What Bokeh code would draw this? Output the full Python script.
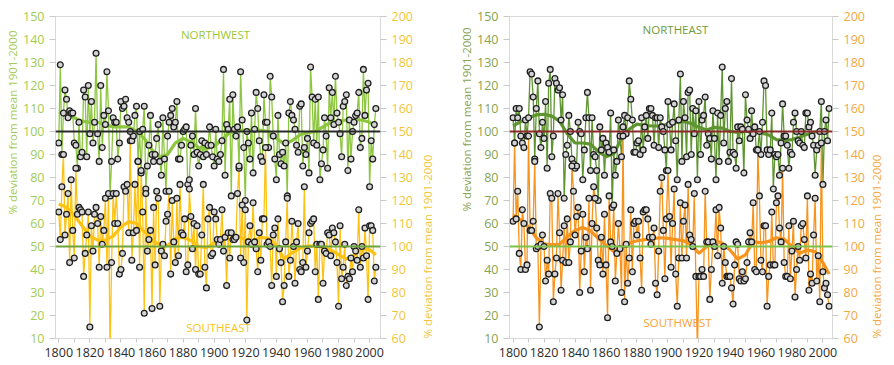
import math
from bokeh.plotting import figure
from bokeh.models import Range1d, LinearAxis, FixedTicker, Span, Label, Title
from bokeh.layouts import row
from bokeh.embed import file_html
from bokeh.resources import INLINE

# ---------------- data ----------------
years = list(range(1800, 2005))
smooth_years = list(range(1800, 2001, 5)) + [2004]
x_ticks = list(range(1800, 2001, 20))
x_minor = list(range(1800, 2011, 10))
left_ticks = list(range(10, 151, 10))
right_ticks = list(range(60, 201, 10))

northwest = [
    95, 129, 90, 108, 118, 114, 106, 109, 108, 108,
    95, 94, 84, 104, 89, 91, 118, 115, 89, 120,
    99, 113, 95, 104, 134, 99, 87, 120, 93, 107,
    103, 126, 109, 72, 87, 106, 104, 104, 88, 95,
    113, 110, 111, 114, 106, 104, 96, 96, 98, 107,
    111, 87, 100, 82, 101, 111, 75, 85, 94, 107,
    90, 87,
    90, 97, 103, 87, 81, 106, 88, 74, 98, 104,
    107, 110, 102, 104, 113, 88, 88, 94, 100, 101,
    102, 77, 79, 94, 98, 90, 110, 91, 85, 90,
    96, 89, 95, 90, 94, 102, 94, 89, 85, 101,
    88, 87, 90, 96, 127, 81, 103, 101, 114, 72,
    116, 101, 98, 102, 84, 126, 105, 93, 70, 100, 95, 88,
    108, 82, 101, 117, 110, 96, 89, 87, 116, 104,
    104, 93, 124, 115, 98, 88, 79, 107, 90, 86,
    91, 85, 95, 72, 108, 113, 107, 105, 101, 94,
    91, 111, 112, 85, 93, 90, 97, 82, 128, 115,
    95, 114, 94, 115, 79, 86, 92, 106, 98, 84,
    119, 106, 117, 103, 124, 108, 104, 99, 89, 111,
    113, 116, 83, 105, 88, 100, 104, 107, 108, 117,
    93, 97, 127, 107, 118, 121, 76, 96, 88, 103, 110,
]

southeast = [
    115, 103, 126, 140, 105, 114, 123, 93, 129, 107,
    95, 134, 114, 117, 116, 115, 87, 97, 105, 115,
    65, 109, 98, 114, 117, 110, 91, 113, 101, 107,
    121, 91, 123, 52, 93, 123, 110, 123, 110, 88,
    90, 97, 126, 124, 127, 106, 150, 94, 106, 127,
    107, 137, 91, 133, 115, 71, 123, 98, 103, 107,
    73, 117, 92, 124, 121, 74, 98, 101, 96, 111,
    114, 124, 88, 120, 102, 93, 121, 96, 127, 106,
    105, 112, 89, 92, 125, 113, 99, 110, 90, 109,
    88, 88, 105, 127, 91, 82, 112, 117, 96, 97,
    115, 112, 103, 101, 103, 116, 98, 104, 83, 106,
    95, 106, 103, 103, 104, 123, 135, 95, 118, 93,
    116, 68, 102, 109, 101, 119, 102, 99, 89, 106,
    94, 112, 112, 143, 101, 102, 100, 83, 105, 108,
    87, 112, 99, 93, 76, 83, 102, 121, 87, 94,
    111, 100, 84, 102, 110, 90, 89, 93, 126, 91,
    98, 106, 110, 111, 112, 89, 101, 77, 101, 101,
    84, 98, 97, 106, 105, 96, 108, 106, 102, 93,
    74, 109, 86, 91, 101, 83, 87, 86, 95, 89,
    100, 98, 94, 116, 91, 100, 95, 108, 96, 77,
    109, 109, 107, 85, 91,
]

northeast = [
    106, 95, 110, 106, 110, 98, 95,
    93, 105, 98, 106, 126, 125, 115, 88, 110, 122,
    99, 93, 104, 97, 113, 84, 121, 127, 89, 98,
    123, 121, 118, 119, 105, 116, 71, 90, 94, 107,
    100, 88, 86, 84, 85, 104, 100, 99, 79, 92,
    106, 117, 106, 83, 106, 90, 89, 83, 70, 102,
    92, 97, 81, 95, 93, 91, 108, 67, 92, 81,
    87, 105, 98, 89, 102, 107, 99, 106, 122, 114,
    105, 91, 91, 95, 96, 90, 106, 92, 102, 107,
    97, 110, 110, 107, 94, 106, 106, 93, 106, 102,
    100, 92, 83, 113, 103, 92, 104, 112, 96, 79,
    105, 125, 87, 113, 106, 89, 117, 118, 90, 110,
    99, 109, 79, 113, 90, 105, 107, 115, 94, 99,
    97, 88, 109, 97, 79, 108, 87, 107, 128, 95,
    110, 113, 87, 91, 123, 91, 90, 84, 102, 96,
    102, 101, 82, 116, 105, 101, 97, 109, 99, 102,
    92, 92, 100, 90, 104, 122, 120, 92, 90, 92,
    108, 75, 90, 89, 90, 81, 95, 112, 98, 98, 94,
    84, 91, 90, 104, 108, 100, 96, 95, 100, 94,
    93, 108, 108, 102, 104, 98, 94, 81, 92, 94, 100,
    113, 77, 100, 105, 96, 110,
]

southwest = [
    111, 145, 112, 124, 97, 90, 116, 110, 90, 92,
    148, 107, 107, 111, 137, 99, 100, 65,
    101, 105, 100, 85, 94, 88, 123, 121, 76, 88,
    95, 123, 106, 81, 94, 109, 93, 112, 93, 102,
    135, 124, 105, 113, 117, 80, 98, 114, 89, 104,
    99, 121, 81, 110, 126, 121, 108, 94, 92, 104, 88, 114, 92,
    69,
    122, 102, 100, 118, 85, 97, 110, 99, 80, 148,
    76, 101, 84, 95, 116, 89, 110, 111, 105, 111,
    95, 81, 115, 116, 116, 112, 104, 101, 104, 108,
    84, 79, 98, 124, 130, 107, 86, 112, 133, 113,
    91, 110, 125, 88,
    74,
    95, 119, 95, 111, 118, 95, 127, 105, 103, 100,
    123, 87, 55, 87, 87, 90, 87, 124, 102, 102,
    77, 90, 102, 100, 116, 96, 117, 108, 84, 100,
    93, 87, 87, 87, 82,
    75,
    92, 102, 101, 86, 85, 89, 85, 86, 93, 102,
    106, 102, 119, 90, 89, 142, 122, 94, 89, 109, 109,
    74,
    87, 92, 115, 92, 92, 119, 122, 108, 102, 134,
    93, 87, 87, 109, 86, 98, 111, 78, 90, 100,
    94, 109, 110, 103, 95, 122, 81, 88, 84, 105,
    121, 85, 96, 76, 145, 89, 82, 84, 79, 74,
]

nw_smooth = [108.4, 107.5, 106, 104.5, 104, 104, 103, 102, 102, 102,
             100, 97, 92, 89, 90, 95, 97, 95.5, 93, 92.5,
             93.5, 96.5, 99.5, 100.5, 100.5, 100.5, 100.5, 100, 97, 94.6,
             96, 98.5, 99.5, 100, 102, 104, 104.5, 105, 105, 105,
             104, 102.6]
se_smooth = [118.5, 117, 113.5, 109, 104.5, 102.8, 102.8, 104.5, 108.5, 110.8,
             110, 106.5, 102.6, 100.8, 100.4, 103.5, 104, 102.6, 100, 99.5,
             101.5, 104.5, 106, 104.5, 103, 102.6, 104, 103.5, 100.5, 94.6,
             97.2, 99.2, 100.2, 100.3, 99.7, 98.5, 96.5, 94.5, 96.2, 99.2,
             98.6, 96.4]
ne_smooth = [102.4, 104.3, 106, 107.2, 107.5, 106.7, 104.5, 99, 95, 95,
             94.5, 91.3, 89, 90.2, 97, 101, 103.2, 102.6, 102.4, 102.4,
             103.2, 103.8, 104.4, 103.5, 101.8, 100.6, 101.8, 101.5, 100, 99.6,
             100, 100.2, 99.5, 98.5, 96.5, 96, 96.5, 97.6, 98.8, 99.8,
             100.3, 100.3]
sw_smooth = [113.6, 111.5, 108.5, 103.8, 101.2, 100.7, 100.9, 104.3, 107, 108.3,
             106.8, 103.5, 100.6, 97.8, 99.5, 101.5, 102.5, 103, 103.4, 103.8,
             103.5, 103, 102.5, 100.8, 97, 100, 102.5, 101.5, 98.5, 94.5,
             96.4, 102.1, 101.6, 102.2, 103.8, 103.2, 100, 97.1, 98.5, 97.8,
             93, 88]

AXIS_TITLE = "% deviation from mean  1901-2000"
FONT = "Open Sans"


def set_align(axis, val):
    try:
        axis.axis_label_align = val
    except Exception as e:  # property may not exist
        print("align not set:", e)


def panel(width, x_start, x_end, b_left, b_right, b_top, b_bottom,
          top_series, top_smooth, top_color, top_label, top_label_color,
          left_lab_color, ref_top_color,
          bot_series, bot_smooth, bot_color, bot_label, bot_label_color,
          right_lab_color, ref_bot_color,
          lbl_pos, l_title_offset, r_title_standoff):
    p = figure(width=width, height=365, x_range=Range1d(x_start, x_end),
               y_range=Range1d(10, 150), output_backend="svg",
               toolbar_location=None, min_border_left=b_left,
               min_border_right=b_right, min_border_top=b_top,
               min_border_bottom=b_bottom)
    p.extra_y_ranges = {"r": Range1d(60, 200)}
    p.grid.visible = False
    p.outline_line_color = "#d9d9d9"
    p.outline_line_width = 1
    p.background_fill_color = "white"
    p.border_fill_color = "white"

    # x axis
    xa = p.xaxis[0]
    xa.ticker = FixedTicker(ticks=x_ticks, minor_ticks=x_minor)
    xa.axis_line_color = None
    xa.major_tick_line_color = "#c8c8c8"
    xa.minor_tick_line_color = "#c8c8c8"
    xa.major_tick_in = 0
    xa.major_tick_out = 4
    xa.minor_tick_in = 0
    xa.minor_tick_out = 4
    xa.major_label_standoff = 5
    xa.major_label_text_font = FONT
    xa.major_label_text_font_size = "12.5px"
    xa.major_label_text_color = "#2b2b2b"

    # left axis
    ya = p.yaxis[0]
    ya.ticker = FixedTicker(ticks=left_ticks)
    ya.axis_line_color = None
    ya.major_tick_line_color = "#c8c8c8"
    ya.major_tick_in = 0
    ya.major_tick_out = 6
    ya.minor_tick_line_color = None
    ya.major_label_standoff = 5
    ya.major_label_text_font = FONT
    ya.major_label_text_font_size = "12.5px"
    ya.major_label_text_color = left_lab_color

    # left axis title (outside the tick labels, towards the top)
    p.add_layout(Title(text=AXIS_TITLE, align="right", offset=l_title_offset,
                       standoff=2, text_color=left_lab_color, text_font=FONT,
                       text_font_size="11.5px", text_font_style="normal"),
                 "left")

    # right axis
    ra = LinearAxis(y_range_name="r", ticker=FixedTicker(ticks=right_ticks))
    ra.axis_line_color = None
    ra.major_tick_line_color = "#c8c8c8"
    ra.major_tick_in = 0
    ra.major_tick_out = 6
    ra.minor_tick_line_color = None
    ra.major_label_standoff = 5
    ra.major_label_text_font = FONT
    ra.major_label_text_font_size = "12.5px"
    ra.major_label_text_color = right_lab_color
    ra.axis_label = AXIS_TITLE
    ra.axis_label_text_font = FONT
    ra.axis_label_text_font_style = "normal"
    ra.axis_label_text_font_size = "11.5px"
    ra.axis_label_text_color = right_lab_color
    ra.axis_label_standoff = r_title_standoff
    ra.axis_label_orientation = math.pi / 2
    set_align(ra, "start")
    p.add_layout(ra, "right")

    # yearly series lines
    p.line(years, top_series, line_color=top_color, line_width=1.3)
    p.line(years, bot_series, line_color=bot_color, line_width=1.3,
           y_range_name="r")

    # reference lines
    p.add_layout(Span(location=100, dimension="width", line_color=ref_top_color,
                      line_width=2))
    p.add_layout(Span(location=50, dimension="width", line_color=ref_bot_color,
                      line_width=2))

    # smoothed curves
    p.line(smooth_years, top_smooth, line_color=top_color, line_width=3.2)
    p.line(smooth_years, bot_smooth, line_color=bot_color, line_width=3.2,
           y_range_name="r")

    # markers
    p.scatter(years, top_series, marker="circle", size=5.8, fill_color="#d4d4d4",
              line_color="#1e1e1e", line_width=1.3)
    p.scatter(years, bot_series, marker="circle", size=5.8, fill_color="#d4d4d4",
              line_color="#1e1e1e", line_width=1.3, y_range_name="r")

    # panel names
    (tlx, tly), (blx, bly) = lbl_pos
    p.add_layout(Label(x=tlx, y=tly, x_units="screen", y_units="screen",
                       text=top_label, text_color=top_label_color,
                       text_font=FONT, text_font_size="11.5px",
                       text_align="center", text_baseline="middle"))
    p.add_layout(Label(x=blx, y=bly, x_units="screen", y_units="screen",
                       text=bot_label, text_color=bot_label_color,
                       text_font=FONT, text_font_size="11.5px",
                       text_align="center", text_baseline="middle"))
    return p


left = panel(445, 1797.9, 2007.0, 55, 62, 16, 27,
             northwest, nw_smooth, "#8dc63f", "NORTHWEST", "#9cc83b",
             "#a2cb55", "#2a2a2a",
             southeast, se_smooth, "#fcc314", "SOUTHEAST", "#f8c619",
             "#f2c636", "#6ea33c",
             [(160, 304), (163, 11.5)], 11, 12)

right = panel(449, 1797.7, 2006.2, 64, 56, 13, 27,
              northeast, ne_smooth, "#5e9530", "NORTHEAST", "#6f9b3a",
              "#86a352", "#8b2a2a",
              southwest, sw_smooth, "#f7941d", "SOUTHWEST", "#f7a234",
              "#f4a83e", "#7cc24a",
              [(166, 309), (168, 16)], 8, 9)

layout = row(left, right)
open("out.html", "w").write(file_html(layout, INLINE))
